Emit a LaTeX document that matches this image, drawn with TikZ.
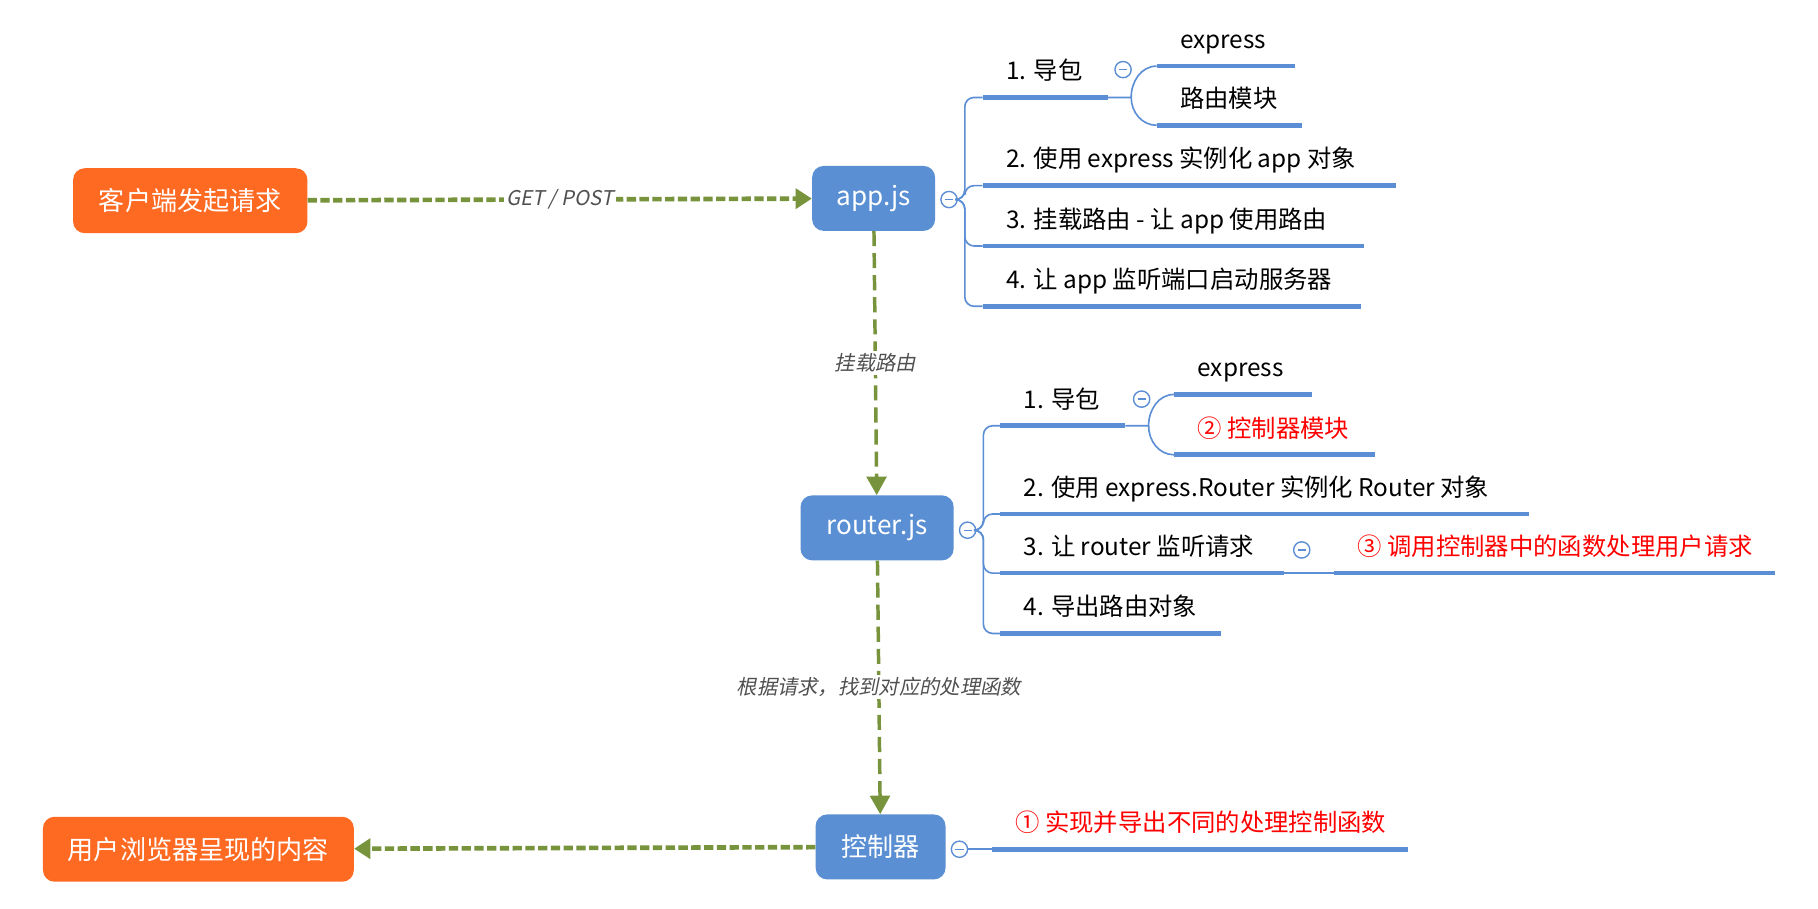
\documentclass[tikz,border=0pt]{standalone}
\usepackage{fontspec}
\setmainfont{Noto Sans CJK SC}
\newfontfamily\slantfont[FakeSlant=0.2]{Noto Sans CJK SC}
\usetikzlibrary{arrows.meta}

\definecolor{boxorange}{HTML}{FF6A23}
\definecolor{boxblue}{HTML}{5A8FD3}
\definecolor{mmblue}{HTML}{5B8ED5}
\definecolor{flowgreen}{HTML}{77933C}
\definecolor{labgray}{HTML}{505050}

\begin{document}
\begin{tikzpicture}[x=1pt, y=-1pt,
    box/.style={rounded corners=10pt, minimum height=56pt, text=white, font=\fontsize{22.5}{26}\selectfont},
    client/.style={box, fill=boxorange},
    js/.style={box, fill=boxblue},
    topic/.style={anchor=south west, inner xsep=0pt, inner ysep=11pt, text depth=4pt, font=\fontsize{21}{25}\selectfont},
    uline/.style={draw=mmblue, line width=4pt},
    branch/.style={draw=mmblue, line width=1.4pt},
    fold/.style={circle, draw=mmblue, fill=white, line width=1.2pt, minimum size=14pt, inner sep=0pt,
      path picture={\draw[mmblue, line width=1.2pt] ([xshift=-3.5pt]path picture bounding box.center) -- ([xshift=3.5pt]path picture bounding box.center);}},
    flow/.style={draw=flowgreen, line width=4pt, dash pattern=on 8pt off 3pt, -{Triangle[length=14pt, width=17pt]}},
    vflow/.style={draw=flowgreen, line width=3pt, dash pattern=on 13pt off 6pt, -{Triangle[length=16pt, width=17pt]}},
    elabel/.style={fill=white, text=labgray, inner sep=2pt, font=\slantfont\fontsize{17.5}{20}\selectfont}]

    \fill[white] (0,0) rectangle (1567,783);
    \useasboundingbox (0,0) rectangle (1567,783);

    \node[client, minimum width=202pt] (client) at (164,173) {客户端发起请求};
    \node[client, minimum width=268pt] (browser) at (171,732) {用户浏览器呈现的内容};
    \node[js, minimum width=106pt] (app) at (753,171) {app.js};
    \node[js, minimum width=132pt] (router) at (756,455) {router.js};
    \node[js, minimum width=112pt] (ctrl) at (759,730) {控制器};

    \draw[flow] (client) -- node[elabel] {GET / POST} (app);
    \draw[vflow] (app) -- node[elabel] {挂载路由} (router);
    \draw[vflow] (router) -- node[elabel] {根据请求，找到对应的处理函数} (ctrl);
    \draw[flow] (ctrl) -- (browser);

    % topics: name / x / y / underline length / colour / text
    \foreach \n/\x/\y/\len/\c/\t in {
        a1/847/84/108/black/{1. 导包},
        a2/847/160/356/black/{2. 使用 express 实例化 app 对象},
        a3/847/212/329/black/{3. 挂载路由 - 让 app 使用路由},
        a4/847/264/326/black/{4. 让 app 监听端口启动服务器},
        b1/997/57/119/black/{express},
        b2/997/108/125/black/{路由模块},
        r1/862/367/108/black/{1. 导包},
        r2/862/443/456/black/{2. 使用 express.Router 实例化 Router 对象},
        r3/862/494/245/black/{3. 让 router 监听请求},
        r4/862/546/190/black/{4. 导出路由对象},
        s1/1012/340/119/black/{express},
        s2/1012/392/173/red/{② 控制器模块},
        s3/1150/494/380/red/{③ 调用控制器中的函数处理用户请求},
        c1/855/732/359/red/{① 实现并导出不同的处理控制函数}} {
      \node[topic, text=\c] (\n) at (\x+20,\y) {\t};
      \draw[uline] ([xshift=-20pt]\n.south west) coordinate (\n-s) -- ++(\len,0) coordinate (\n-e);
    }

    \node[fold] (mA) at (818,172) {};
    \node[fold] (mA1) at (968,60) {};
    \node[fold] (mR) at (834,457) {};
    \node[fold] (mR1) at (984,344) {};
    \node[fold] (mR3) at (1122,474) {};
    \node[fold] (mC) at (827,732) {};

    \foreach \n in {a1,a2,a3,a4}
      \draw[branch, rounded corners=8pt] (mA.east) -- ++(6,0) |- (\n-s);
    \foreach \n in {r1,r2,r3,r4}
      \draw[branch, rounded corners=8pt] (mR.east) -- ++(6,0) |- (\n-s);

    \draw[branch] (a1-e) -- ++(20,0) coordinate (a1-k) to[out=90, in=180] (b1-s);
    \draw[branch] (a1-k) to[out=-90, in=180] (b2-s);
    \draw[branch] (r1-e) -- ++(20,0) coordinate (r1-k) to[out=90, in=180] (s1-s);
    \draw[branch] (r1-k) to[out=-90, in=180] (s2-s);
    \draw[branch] (r3-e) -- (s3-s);
    \draw[branch] (mC) -- (c1-s);
\end{tikzpicture}
\end{document}
